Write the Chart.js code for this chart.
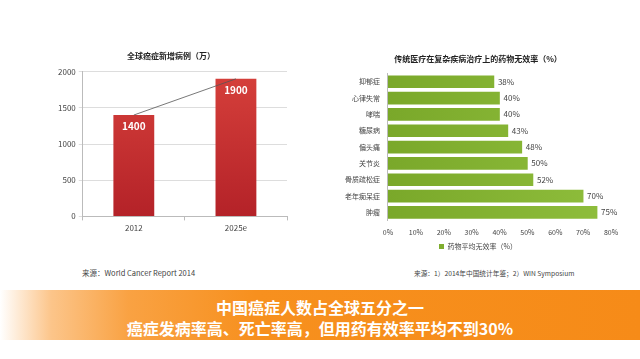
<!DOCTYPE html>
<html>
<head>
<meta charset="utf-8">
<script src="https://cdn.jsdelivr.net/npm/chart.js@4/dist/chart.umd.min.js"></script>
<style>
  body { margin: 0; width: 640px; height: 359px; background: #fff; position: relative; overflow: hidden;
         font-family: "Noto Sans CJK SC", "Noto Sans", sans-serif; }
  #c1 { position: absolute; left: 55px; top: 47px; }
  #c2 { position: absolute; left: 345px; top: 50px; }
  .src { position: absolute; font-size: 7px; color: #444; white-space: nowrap; }
  #banner { position: absolute; left: 0; top: 290px; width: 640px; height: 50px;
            background: linear-gradient(90deg, #fff 0%, #fcc58a 8%, #f9a243 20%, #f7901e 40%, #f68b18 100%); }
  #banner div { position: absolute; width: 640px; text-align: center; color: #fff; font-weight: bold; font-size: 16px; }
</style>
</head>
<body>
<canvas id="c1" width="245" height="189"></canvas>
<canvas id="c2" width="290" height="210"></canvas>
<div class="src" style="left:82px; top:267px; font-size:7.5px;">来源：World Cancer Report 2014</div>
<div class="src" style="left:414px; top:268px; font-size:6.7px;">来源：1）2014年中国统计年鉴；2）WIN Symposium</div>
<div id="banner">
  <div style="top:5px;">中国癌症人数占全球五分之一</div>
  <div style="top:26px;">癌症发病率高、死亡率高，但用药有效率平均不到30%</div>
</div>
<script>
// 左图：全球癌症新增病例（万）
const years = ['2012', '2025e'];
const newCases = [1400, 1900];

// 右图：药物无效率
const diseases = ['抑郁症', '心律失常', '哮喘', '糖尿病', '偏头痛', '关节炎', '骨质疏松症', '老年痴呆症', '肿瘤'];
const invalidRate = [38, 40, 40, 43, 48, 50, 52, 70, 75];

const cjk = '"Noto Sans CJK SC", "Noto Sans", sans-serif';
Chart.defaults.font.family = cjk;
Chart.defaults.color = '#444';

// 柱上数值标签
const valueLabels = {
    id: 'valueLabels',
    afterDatasetsDraw(chart, args, opts) {
        const ctx = chart.ctx;
        const meta = chart.getDatasetMeta(opts.index || 0);
        ctx.save();
        meta.data.forEach((bar, i) => {
            const v = chart.data.datasets[opts.index || 0].data[i];
            if (opts.inside) {
                ctx.fillStyle = '#fff';
                ctx.font = 'bold 10px ' + cjk;
                ctx.textAlign = 'center';
                ctx.textBaseline = 'middle';
                ctx.fillText(v, bar.x, bar.y + 11);
            } else {
                ctx.fillStyle = '#444';
                ctx.font = '8px ' + cjk;
                ctx.textAlign = 'left';
                ctx.textBaseline = 'middle';
                ctx.fillText(v + '%', bar.x + 4, bar.y);
            }
        });
        ctx.restore();
    }
};

new Chart(document.getElementById('c1'), {
    type: 'bar',
    data: {
        labels: years,
        datasets: [
            {
                data: newCases,
                backgroundColor: (c) => {
                    const a = c.chart.chartArea;
                    if (!a) return '#c62d2d';
                    const g = c.chart.ctx.createLinearGradient(0, a.top, 0, a.bottom);
                    g.addColorStop(0, '#d6403b');
                    g.addColorStop(1, '#b42228');
                    return g;
                },
                barPercentage: 0.4,
                categoryPercentage: 1,
                order: 2
            },
            {
                type: 'line',
                data: newCases,
                borderColor: '#555',
                borderWidth: 0.8,
                pointRadius: 0,
                order: 1
            }
        ]
    },
    options: {
        responsive: false,
        animation: false,
        layout: { padding: { right: 13 } },
        plugins: {
            legend: { display: false },
            tooltip: { enabled: false },
            title: { display: true, text: '全球癌症新增病例（万）', font: { size: 8, weight: 'bold' }, color: '#222', padding: { top: 4, bottom: 11 } },
            valueLabels: { index: 0, inside: true }
        },
        scales: {
            x: {
                grid: { drawOnChartArea: false, color: '#bbb', tickLength: 4 },
                border: { color: '#bbb' },
                ticks: { font: { size: 8 }, padding: 3 }
            },
            y: {
                min: 0, max: 2000,
                ticks: { stepSize: 500, font: { size: 8 }, padding: 3, callback: v => String(v) },
                grid: { color: '#ddd', tickLength: 4 },
                border: { color: '#bbb' }
            }
        }
    },
    plugins: [valueLabels]
});

new Chart(document.getElementById('c2'), {
    type: 'bar',
    data: {
        labels: diseases,
        datasets: [{
            label: '药物平均无效率（%）',
            data: invalidRate,
            backgroundColor: (c) => {
                const a = c.chart.chartArea;
                if (!a) return '#84b135';
                const g = c.chart.ctx.createLinearGradient(a.left, 0, a.right, 0);
                g.addColorStop(0, '#7aa82a');
                g.addColorStop(1, '#8fbe3c');
                return g;
            },
            barThickness: 12
        }]
    },
    options: {
        indexAxis: 'y',
        responsive: false,
        animation: false,
        layout: { padding: { right: 24 } },
        plugins: {
            legend: {
                position: 'bottom',
                align: 'center',
                labels: { boxWidth: 5, boxHeight: 5, font: { size: 7 }, padding: 6 }
            },
            tooltip: { enabled: false },
            title: { display: true, text: '传统医疗在复杂疾病治疗上的药物无效率（%）', font: { size: 8, weight: 'bold' }, color: '#222', padding: { top: 4, bottom: 10 } },
            valueLabels: { index: 0, inside: false }
        },
        scales: {
            x: {
                min: 0, max: 80,
                ticks: { stepSize: 10, font: { size: 7 }, padding: 0, callback: v => v + '%' },
                grid: { display: false },
                border: { display: false }
            },
            y: {
                ticks: { font: { size: 7 }, padding: 0 },
                grid: { display: false },
                border: { color: '#bbb' }
            }
        }
    },
    plugins: [valueLabels]
});
</script>
</body>
</html>
